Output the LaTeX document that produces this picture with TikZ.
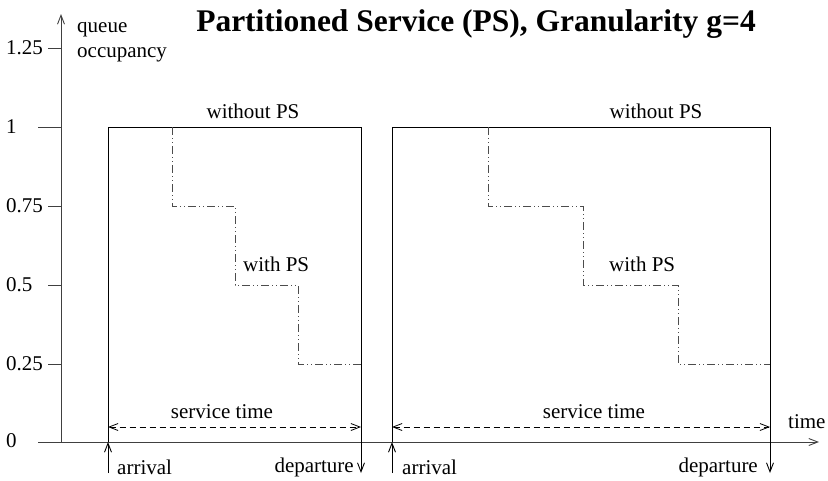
\documentclass[tikz,border=0pt]{standalone}
\usepackage{fontspec}
\setmainfont{Liberation Serif}
\usetikzlibrary{arrows.meta}
\begin{document}
\begin{tikzpicture}[x=1pt,y=-1pt,
  lbl/.style={font=\fontsize{21}{25}\selectfont, inner sep=0pt},
  ttl/.style={font=\fontsize{31.5}{35}\selectfont\bfseries, inner sep=0pt},
  axisline/.style={line width=0.9pt, draw=black!75},
  boxline/.style={line width=0.9pt, draw=black},
  tip/.style={-{Straight Barb[length=9pt,width=7pt]}},
  bothtips/.style={{Straight Barb[length=9pt,width=7pt]}-{Straight Barb[length=9pt,width=7pt]}},
  svc/.style={line width=0.8pt, draw=black, dash pattern=on 6pt off 4pt},
  ps/.style={line width=0.8pt, draw=black!70, dash pattern=on 8pt off 3pt on 1pt off 3pt on 1pt off 3pt}
]
\useasboundingbox (0,0) rectangle (828,480);

% axes
\coordinate (org) at (61,442);
\coordinate (ytop) at (61,14);
\coordinate (xstart) at (38,442);
\coordinate (xend) at (819,442);
\draw[axisline,tip] (org) -- (ytop);
\draw[axisline,tip] (xstart) -- (xend);

% ticks and labels
\foreach \i/\v/\y/\s in {a/1.25/48/48, b/1/127/38, c/0.75/206/48, d/0.5/285/48, e/0.25/364/48}{
  \coordinate (ts\i) at (\s,\y);
  \coordinate (te\i) at (61,\y);
  \draw[axisline] (ts\i) -- (te\i);
  \node[lbl, anchor=west] (lab\i) at (6,\y) {\v};
}
\node[lbl, anchor=west] (labz) at (6,441) {0};

\node[lbl, anchor=north west, align=left] (ylab) at (77,22) {queue\\occupancy};
\node[lbl, anchor=west] (xlab) at (788,422) {time};

\node[ttl] (title) at (476,24) {Partitioned Service (PS), Granularity g=4};

% left box
\coordinate (a1) at (108,442);
\coordinate (a1b) at (108,473);
\coordinate (tl1) at (108,127);
\coordinate (tr1) at (361,127);
\coordinate (d1b) at (361,473);
\draw[boxline] (a1) -- (tl1) -- (tr1);
\draw[boxline,tip] (tr1) -- (d1b);
\draw[boxline,tip] (a1b) -- (a1);

% right box
\coordinate (a2) at (392,442);
\coordinate (a2b) at (392,473);
\coordinate (tl2) at (392,127);
\coordinate (tr2) at (770,127);
\coordinate (d2b) at (770,473);
\draw[boxline] (a2) -- (tl2) -- (tr2);
\draw[boxline,tip] (tr2) -- (d2b);
\draw[boxline,tip] (a2b) -- (a2);

% service time arrows
\coordinate (s1a) at (108,427);
\coordinate (s1b) at (361,427);
\coordinate (s2a) at (392,427);
\coordinate (s2b) at (770,427);
\draw[svc,bothtips] (s1a) -- (s1b);
\draw[svc,bothtips] (s2a) -- (s2b);
\node[lbl] (st1) at (222,412) {service time};
\node[lbl] (st2) at (594,412) {service time};

% staircases (with PS)
\coordinate (p1) at (172,127);
\coordinate (p2) at (235,206);
\coordinate (p3) at (298,285);
\coordinate (p4) at (361,364);
\draw[ps] (p1) |- (p2) |- (p3) |- (p4);
\coordinate (q1) at (488,127);
\coordinate (q2) at (583,206);
\coordinate (q3) at (678,285);
\coordinate (q4) at (770,364);
\draw[ps] (q1) |- (q2) |- (q3) |- (q4);

% labels
\node[lbl] (wo1) at (253,111) {without PS};
\node[lbl] (wo2) at (656,111) {without PS};
\node[lbl, anchor=west] (wp1) at (243,264) {with PS};
\node[lbl, anchor=west] (wp2) at (609,264) {with PS};
\node[lbl, anchor=west] (ar1) at (117,467) {arrival};
\node[lbl, anchor=east] (de1) at (354,467) {departure};
\node[lbl, anchor=west] (ar2) at (402,467) {arrival};
\node[lbl, anchor=east] (de2) at (758,467) {departure};
\end{tikzpicture}
\end{document}
